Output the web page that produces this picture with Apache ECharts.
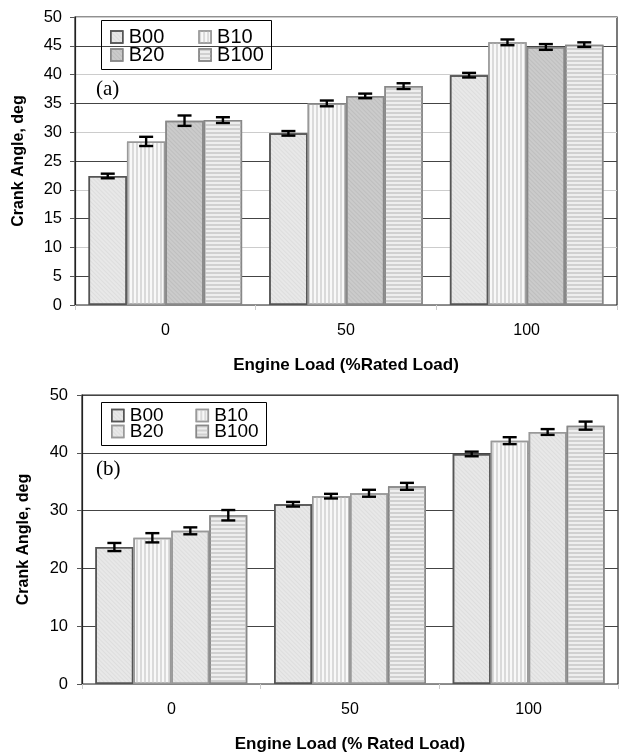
<!DOCTYPE html>
<html>
<head>
<meta charset="utf-8">
<script src="https://cdn.jsdelivr.net/npm/echarts@6/dist/echarts.min.js"></script>
<style>
  html, body { margin: 0; padding: 0; background: #fff; }
  #chart { width: 621px; height: 754px; }
</style>
</head>
<body>
<div id="chart"></div>
<script>
// engine load categories and blends
var loads = ['0', '50', '100'];
var blends = ['B00', 'B10', 'B20', 'B100'];

// (a) crank angle per blend, one array per blend (load 0, 50, 100)
var angleA = [
  [22.4, 29.8, 39.9],
  [28.4, 35.0, 45.6],
  [32.0, 36.3, 44.8],
  [32.1, 38.0, 45.2]
];
var errA = [
  [0.4, 0.4, 0.4],
  [0.8, 0.5, 0.5],
  [0.9, 0.4, 0.5],
  [0.5, 0.5, 0.4]
];

// (b)
var angleB = [
  [23.7, 31.1, 39.8],
  [25.3, 32.5, 42.1],
  [26.5, 33.0, 43.6],
  [29.2, 34.2, 44.7]
];
var errB = [
  [0.7, 0.4, 0.4],
  [0.8, 0.4, 0.6],
  [0.6, 0.6, 0.5],
  [0.9, 0.6, 0.7]
];

var GAP = 0.15;

var diag = function (c) {
  return { symbol: 'rect', symbolSize: 1, dashArrayX: [1, 0], dashArrayY: [1, 2], rotation: Math.PI / 4, color: c };
};
var vert = { symbol: 'rect', symbolSize: 1, dashArrayX: [2, 2], dashArrayY: [1, 0], rotation: 0, color: '#dadada' };
var horiz = { symbol: 'rect', symbolSize: 1, dashArrayX: [1, 0], dashArrayY: [2, 2], rotation: 0, color: '#d0d0d0' };

var styleA = [
  { color: '#e8e8e8', borderColor: '#555', borderWidth: 1.5, decal: diag('rgba(170,170,170,0.18)') },
  { color: '#f8f8f8', borderColor: '#999', borderWidth: 1.5, decal: vert },
  { color: '#cbcbcb', borderColor: '#888', borderWidth: 1.5, decal: diag('rgba(140,140,140,0.2)') },
  { color: '#eeeeee', borderColor: '#888', borderWidth: 1.5, decal: horiz }
];
var styleB = [
  styleA[0],
  styleA[1],
  { color: '#e8e8e8', borderColor: '#999', borderWidth: 1.5, decal: diag('rgba(170,170,170,0.18)') },
  styleA[3]
];

function errRender(idx) {
  return function (params, api) {
    var x = api.value(0);
    var lo = api.coord([x, api.value(1)]);
    var hi = api.coord([x, api.value(2)]);
    var cw = api.size([1, 0])[0];
    var area = cw * (1 - GAP);
    var bw = area / 4;
    var cx = lo[0] - area / 2 + (idx + 0.5) * bw;
    var h = 7;
    var st = { stroke: '#000', lineWidth: 2.4 };
    return {
      type: 'group',
      children: [
        { type: 'line', shape: { x1: cx, y1: lo[1], x2: cx, y2: hi[1] }, style: st },
        { type: 'line', shape: { x1: cx - h, y1: lo[1], x2: cx + h, y2: lo[1] }, style: st },
        { type: 'line', shape: { x1: cx - h, y1: hi[1], x2: cx + h, y2: hi[1] }, style: st }
      ]
    };
  };
}

var series = [];
function addSet(vals, errs, styles, gi) {
  blends.forEach(function (b, i) {
    series.push({
      name: b, type: 'bar', xAxisIndex: gi, yAxisIndex: gi,
      barGap: 0, barCategoryGap: (GAP * 100) + '%',
      itemStyle: styles[i], emphasis: { disabled: true },
      data: vals[i]
    });
  });
  blends.forEach(function (b, i) {
    series.push({
      name: 'err' + gi + b, type: 'custom', xAxisIndex: gi, yAxisIndex: gi, z: 5,
      renderItem: errRender(i), encode: { x: 0, y: [1, 2] },
      data: vals[i].map(function (v, j) { return [j, v - errs[i][j], v + errs[i][j]]; })
    });
  });
}
addSet(angleA, errA, styleA, 0);
addSet(angleB, errB, styleB, 1);

function xAx(gi, title) {
  return {
    type: 'category', gridIndex: gi, data: loads,
    axisLine: { lineStyle: { color: '#888', width: 1 } },
    axisTick: { show: true, length: 5, lineStyle: { color: '#ccc' } },
    axisLabel: { color: '#000', fontSize: 16, margin: 18, fontFamily: 'Liberation Sans' },
    name: title, nameLocation: 'middle', nameGap: 52,
    nameTextStyle: { color: '#000', fontSize: 17, fontWeight: 'bold', fontFamily: 'Liberation Sans' }
  };
}
function yAx(gi, interval, gridColors, gap, margin) {
  return {
    type: 'value', gridIndex: gi, min: 0, max: 50, interval: interval,
    axisLine: { show: true, lineStyle: { color: '#222', width: 1.2 } },
    axisTick: { show: true, length: 5, lineStyle: { color: '#555' } },
    axisLabel: { color: '#000', fontSize: 16.5, margin: margin, fontFamily: 'Liberation Sans' },
    splitLine: { show: true, lineStyle: { color: gridColors, width: 1.2 } },
    name: 'Crank Angle, deg', nameLocation: 'middle', nameGap: gap,
    nameTextStyle: { color: '#000', fontSize: 16, fontWeight: 'bold', fontFamily: 'Liberation Sans' }
  };
}

function legendRow(names, top, left, gap, size, styles) {
  return {
    top: top, left: left, padding: 0, itemGap: gap, itemWidth: 12, itemHeight: 12,
    icon: 'rect', selectedMode: false,
    textStyle: { fontSize: size, color: '#000', fontFamily: 'Liberation Sans', padding: [0, 0, 0, 1] },
    data: names.map(function (n) { return { name: n, itemStyle: styles[blends.indexOf(n)] }; })
  };
}

var option = {
  animation: false,
  backgroundColor: '#fff',
  grid: [
    { left: 75, top: 17, right: 4, height: 288, show: true, borderColor: '#222', borderWidth: 1.2, backgroundColor: 'transparent' },
    { left: 82, top: 395, right: 3, height: 298, show: true, borderColor: '#222', borderWidth: 1.2, backgroundColor: 'transparent' }
  ],
  xAxis: [xAx(0, 'Engine Load (%Rated Load)'), xAx(1, 'Engine Load (% Rated Load)')],
  yAxis: [yAx(0, 5, ['#ccc', '#444'], 48, 13), yAx(1, 10, ['#444'], 50, 14)],
  legend: [
    legendRow(['B00', 'B10'], 27, 110, 34, 20, styleA),
    legendRow(['B20', 'B100'], 45, 110, 34, 20, styleA),
    legendRow(['B00', 'B10'], 406, 111, 32, 19, styleB),
    legendRow(['B20', 'B100'], 422, 111, 32, 19, styleB)
  ],
  graphic: [
    { type: 'rect', z: 10, shape: { x: 101.5, y: 20.5, width: 170, height: 49 }, style: { fill: 'transparent', stroke: '#000', lineWidth: 1 } },
    { type: 'rect', z: 10, shape: { x: 101.5, y: 402.5, width: 165, height: 43 }, style: { fill: 'transparent', stroke: '#000', lineWidth: 1 } },
    { type: 'text', z: 10, left: 96, top: 79, style: { text: '(a)', fontSize: 21, fontFamily: 'Liberation Serif', fill: '#000' } },
    { type: 'text', z: 10, left: 96, top: 459, style: { text: '(b)', fontSize: 21, fontFamily: 'Liberation Serif', fill: '#000' } }
  ],
  series: series
};

var chart = echarts.init(document.getElementById('chart'), null, { renderer: 'canvas' });
chart.setOption(option);
</script>
</body>
</html>
